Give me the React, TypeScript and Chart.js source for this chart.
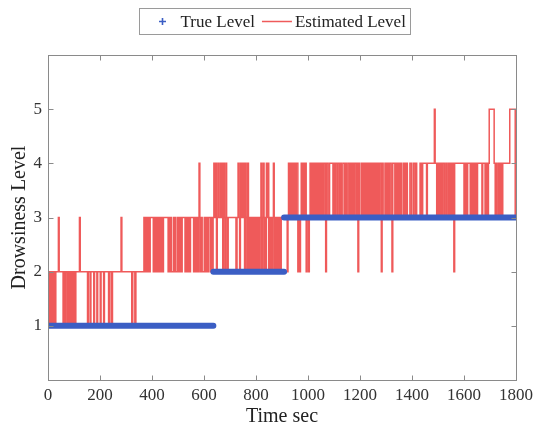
import { useEffect, useRef } from 'react';
import { Chart, registerables } from 'chart.js';

Chart.register(...registerables);

// ---- data ----
const seriesNames = ['True Level', 'Estimated Level'];
const timeRange = [0, 1800];
const timeStep = 200;
const levelRange = [0, 6];
const levelTickLabels = [1, 2, 3, 4, 5];

// True level: constant segments
const trueStart = [0, 636, 908];
const trueEnd = [636, 908, 1800];
const trueValue = [1, 2, 3];

// Estimated level: change points [time sec, level] (value holds until next point)
const estimatedChanges: [number, number][] = [
  [0, 1], [3, 2], [7, 1], [10, 2], [13, 1], [16, 2], [20, 1], [23, 2], [27, 1], [30, 2], [40, 3], [43, 2],
  [58, 1], [61, 2], [65, 1], [68, 2], [74, 1], [77, 2], [80, 1], [83, 2], [86, 1], [89, 2], [92, 1], [95, 2],
  [98, 1], [101, 2], [104, 1], [107, 2], [121, 3], [124, 2], [152, 1], [155, 2], [162, 1], [165, 2], [176, 1],
  [179, 2], [188, 1], [191, 2], [201, 1], [204, 2], [214, 1], [217, 2], [233, 1], [237, 2], [244, 1], [248, 2],
  [281, 3], [284, 2], [322, 1], [326, 2], [334, 1], [338, 2], [369, 3],
  [372, 2], [375, 3], [378, 2], [381, 3], [384, 2], [387, 3], [390, 2], [393, 3],
  [405, 2], [408, 3], [411, 2], [414, 3], [417, 2], [420, 3], [423, 2], [426, 3], [429, 2], [432, 3], [435, 2],
  [438, 3], [441, 2], [444, 3],
  [462, 2], [465, 3], [468, 2], [471, 3], [474, 2],
  [482, 3], [485, 2], [488, 3], [491, 2],
  [498, 3], [501, 2], [504, 3], [507, 2], [510, 3], [513, 2], [516, 3],
  [527, 2], [530, 3], [533, 2], [536, 3], [539, 2], [542, 3], [545, 2], [548, 3],
  [560, 2], [563, 3], [566, 2], [569, 3], [572, 2], [575, 3], [578, 2], [581, 4], [584, 3], [587, 2], [590, 3], [593, 2],
  [601, 3], [604, 2], [607, 3], [610, 2], [613, 3], [616, 2], [619, 3],
  [626, 2], [629, 3], [632, 2], [635, 3],
  [638, 4], [642, 3], [645, 4], [648, 2], [651, 3], [654, 4], [657, 3], [663, 4], [666, 3], [669, 4], [672, 2],
  [675, 4], [678, 3], [681, 2], [684, 4], [687, 3], [690, 2], [693, 3],
  [723, 2], [727, 3], [731, 4], [734, 3], [737, 2], [740, 4], [743, 3], [747, 4], [750, 3], [753, 4], [756, 2],
  [759, 4], [762, 3], [765, 2], [768, 4], [771, 2], [774, 3], [777, 2], [780, 3], [783, 2], [786, 3], [789, 2],
  [792, 3], [795, 2], [798, 3], [801, 2], [804, 3], [807, 2], [810, 3], [813, 2], [816, 3], [819, 4], [822, 2],
  [825, 3], [828, 4], [831, 2], [834, 3], [837, 2], [840, 4], [843, 3], [846, 4], [849, 2], [852, 3], [855, 2],
  [858, 3], [861, 2], [864, 3], [867, 4], [870, 2], [873, 3], [876, 2], [879, 3], [882, 2], [885, 3], [888, 2],
  [891, 3], [894, 2], [897, 3],
  [920, 2], [923, 3], [925, 4], [928, 3], [931, 4], [934, 3], [937, 4], [940, 3], [943, 4], [946, 3], [949, 4],
  [952, 3], [955, 4], [961, 2], [964, 3], [968, 2], [971, 3], [974, 4], [977, 3], [981, 4], [985, 3], [989, 4],
  [993, 2], [996, 3], [1002, 2], [1005, 3], [1008, 4], [1011, 3], [1014, 4], [1017, 3], [1020, 4], [1023, 3],
  [1026, 4], [1029, 3], [1032, 4], [1035, 3], [1038, 4], [1041, 3], [1044, 4], [1047, 3], [1050, 4], [1053, 3],
  [1056, 4], [1059, 3], [1062, 4], [1068, 2], [1071, 4], [1077, 3], [1083, 4], [1096, 3], [1100, 4], [1103, 3],
  [1107, 4], [1113, 3], [1116, 4], [1122, 3], [1125, 4], [1128, 3], [1134, 4], [1141, 3], [1144, 4], [1148, 3],
  [1154, 4], [1160, 3], [1164, 4], [1168, 3], [1172, 4], [1176, 3], [1180, 4], [1186, 3], [1189, 4], [1192, 2],
  [1195, 4], [1199, 3], [1206, 4], [1209, 3], [1212, 4], [1215, 3], [1218, 4], [1221, 3], [1224, 4], [1227, 3],
  [1230, 4], [1233, 3], [1236, 4], [1239, 3], [1242, 4], [1245, 3], [1248, 4], [1251, 3], [1254, 4], [1257, 3],
  [1260, 4], [1264, 3], [1268, 4], [1272, 3], [1276, 4], [1282, 2], [1285, 4], [1289, 3], [1296, 4], [1300, 3],
  [1304, 4], [1309, 3], [1314, 4], [1320, 3], [1323, 2], [1326, 4], [1334, 3], [1338, 4], [1343, 3], [1347, 4],
  [1352, 3], [1356, 4], [1360, 3], [1367, 4], [1372, 3], [1377, 4], [1382, 3], [1392, 4], [1398, 3], [1405, 4],
  [1411, 3], [1414, 4], [1418, 3], [1431, 4], [1436, 3], [1441, 4], [1456, 3], [1459, 4], [1486, 5], [1489, 4],
  [1495, 3], [1498, 4], [1501, 3], [1504, 4], [1507, 3], [1510, 4], [1514, 3], [1518, 4], [1524, 3], [1530, 4],
  [1534, 3], [1540, 4], [1543, 3], [1546, 4], [1549, 3], [1552, 4], [1555, 3], [1558, 4], [1561, 2], [1564, 4],
  [1600, 3], [1604, 4], [1609, 3], [1614, 4], [1624, 3], [1628, 4], [1632, 3], [1636, 4], [1640, 3], [1644, 4],
  [1649, 3], [1652, 4], [1669, 3], [1672, 4], [1681, 3], [1685, 4], [1690, 3], [1694, 4], [1697, 5], [1716, 4],
  [1720, 3], [1724, 4], [1727, 3], [1733, 4], [1737, 3], [1741, 4], [1746, 3], [1749, 4], [1776, 5], [1797, 3],
  [1800, 3],
];

// ---- styles ----
const BLUE = '#3b5ec4';
const RED = '#ef5a5a';
const FRAME = '#8a8a8a';
const SERIF = '"Liberation Serif", "Times New Roman", serif';
const legendIcons = ['cross', 'line'];

const framePlugin = {
  id: 'matlabFrame',
  afterDraw(chart: any) {
    const { ctx, chartArea: a, scales } = chart;
    ctx.save();
    ctx.strokeStyle = FRAME;
    ctx.lineWidth = 1;
    const L = Math.round(a.left) + 0.5, R = Math.round(a.right) + 0.5;
    const T = Math.round(a.top) + 0.5, B = Math.round(a.bottom) + 0.5;
    ctx.strokeRect(L, T, R - L, B - T);
    const tl = 5;
    ctx.beginPath();
    scales.x.ticks.forEach((t: any) => {
      const px = Math.round(scales.x.getPixelForValue(t.value)) + 0.5;
      ctx.moveTo(px, B); ctx.lineTo(px, B - tl);
      ctx.moveTo(px, T); ctx.lineTo(px, T + tl);
    });
    scales.y.ticks.forEach((t: any) => {
      if (!levelTickLabels.includes(t.value)) return;
      const py = Math.round(scales.y.getPixelForValue(t.value)) + 0.5;
      ctx.moveTo(L, py); ctx.lineTo(L + tl, py);
      ctx.moveTo(R, py); ctx.lineTo(R - tl, py);
    });
    ctx.stroke();
    ctx.restore();
  },
};

const legendPlugin = {
  id: 'boxLegend',
  afterDraw(chart: any) {
    const { ctx } = chart;
    const ds = chart.data.datasets;
    ctx.save();
    ctx.font = `17px ${SERIF}`;
    const iconW = 30, padL = 8, gapIT = 3, gapItems = 7, padR = 5;
    const widths = ds.map((d: any) => ctx.measureText(d.label).width);
    let total = padL + padR;
    widths.forEach((w: number, i: number) => {
      total += iconW + gapIT + w + (i < widths.length - 1 ? gapItems : 0);
    });
    const boxTop = 8.5, boxH = 26;
    const cx = 275;
    const left = Math.round(cx - total / 2) + 0.5;
    ctx.fillStyle = '#ffffff';
    ctx.fillRect(left, boxTop, Math.round(total), boxH);
    ctx.strokeStyle = '#9a9a9a';
    ctx.lineWidth = 1;
    ctx.strokeRect(left, boxTop, Math.round(total), boxH);
    const cy = boxTop + boxH / 2;
    let x = left + padL;
    ds.forEach((d: any, i: number) => {
      const icon = legendIcons[i];
      ctx.beginPath();
      if (icon === 'cross') {
        const c = x + iconW / 2;
        ctx.strokeStyle = BLUE;
        ctx.lineWidth = 1.6;
        ctx.moveTo(c - 3.5, cy); ctx.lineTo(c + 3.5, cy);
        ctx.moveTo(c, cy - 3.5); ctx.lineTo(c, cy + 3.5);
      } else {
        ctx.strokeStyle = RED;
        ctx.lineWidth = 1.5;
        ctx.moveTo(x, cy); ctx.lineTo(x + iconW, cy);
      }
      ctx.stroke();
      x += iconW + gapIT;
      ctx.fillStyle = '#222';
      ctx.textBaseline = 'middle';
      ctx.textAlign = 'left';
      ctx.fillText(d.label, x, cy + 1);
      x += widths[i] + gapItems;
    });
    ctx.restore();
  },
};

export default function App() {
  const ref = useRef<HTMLCanvasElement>(null);

  useEffect(() => {
    const truePoints: any[] = [];
    trueValue.forEach((v, i) => {
      truePoints.push({ x: trueStart[i], y: v });
      truePoints.push({ x: trueEnd[i], y: v });
      truePoints.push({ x: trueEnd[i], y: null });
    });
    const estPoints = estimatedChanges.map(([t, v]) => ({ x: t, y: v }));

    const chart = new Chart(ref.current!, {
      type: 'line',
      data: {
        datasets: [
          {
            label: seriesNames[0],
            data: truePoints,
            borderColor: BLUE,
            backgroundColor: BLUE,
            borderWidth: 6,
            borderCapStyle: 'round',
            pointRadius: 0,
            spanGaps: false,
          },
          {
            label: seriesNames[1],
            data: estPoints,
            borderColor: RED,
            backgroundColor: RED,
            borderWidth: 1.5,
            stepped: true,
            pointRadius: 0,
          },
        ],
      },
      options: {
        animation: false,
        responsive: false,
        maintainAspectRatio: false,
        parsing: true,
        layout: { padding: { top: 55, right: 18, bottom: 0, left: 0 } },
        plugins: {
          legend: { display: false },
          tooltip: { enabled: false },
        },
        scales: {
          x: {
            type: 'linear',
            min: timeRange[0],
            max: timeRange[1],
            grid: { display: false, drawTicks: false },
            border: { display: false },
            ticks: {
              stepSize: timeStep,
              padding: 5,
              color: '#333',
              font: { family: SERIF, size: 17 },
              maxRotation: 0,
              autoSkip: false,
              callback: (v: any) => String(v),
            },
            title: {
              display: true,
              text: 'Time sec',
              color: '#222',
              font: { family: SERIF, size: 20 },
              padding: { top: 0, bottom: 0 },
            },
            afterFit(scale: any) {
              scale.height = 49;
              scale.paddingLeft = 0;
              scale.paddingRight = 0;
            },
          },
          y: {
            type: 'linear',
            min: levelRange[0],
            max: levelRange[1],
            grid: { display: false, drawTicks: false },
            border: { display: false },
            ticks: {
              stepSize: 1,
              padding: 6,
              color: '#333',
              font: { family: SERIF, size: 17 },
              callback: (v: any) => (levelTickLabels.includes(Number(v)) ? String(v) : ''),
            },
            title: {
              display: true,
              text: 'Drowsiness Level',
              color: '#222',
              font: { family: SERIF, size: 20 },
              padding: { top: 8, bottom: 0 },
            },
            afterFit(scale: any) {
              scale.width = 48;
              scale.paddingTop = 0;
              scale.paddingBottom = 0;
            },
          },
        },
      },
      plugins: [framePlugin, legendPlugin],
    } as any);
    return () => chart.destroy();
  }, []);

  return (
    <div style={{ position: 'fixed', left: 0, top: 0, width: 534, height: 429, background: '#fff' }}>
      <canvas ref={ref} width={534} height={429} style={{ display: 'block', width: 534, height: 429 }} />
    </div>
  );
}
